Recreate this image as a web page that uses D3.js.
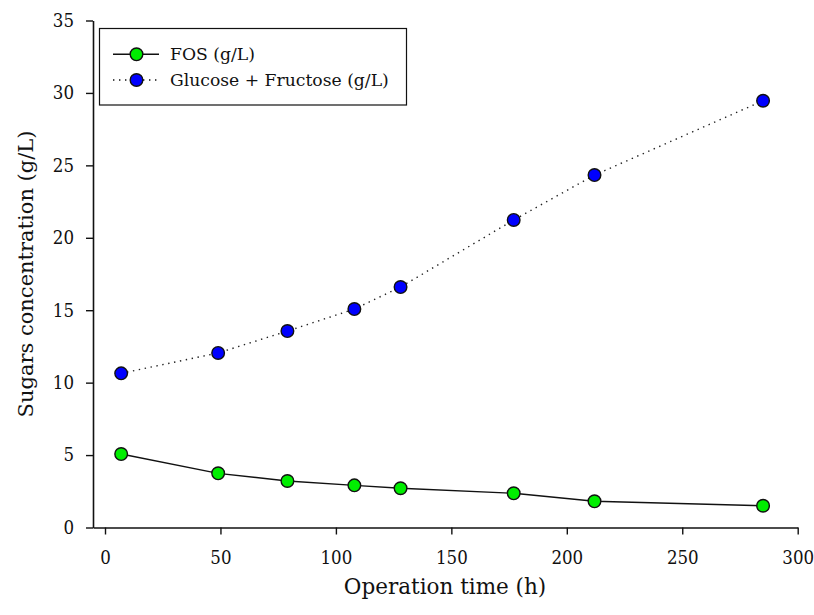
<!DOCTYPE html>
<html>
<head>
<meta charset="utf-8">
<script src="https://cdn.jsdelivr.net/npm/d3@7"></script>
<style>
  body { margin: 0; background: #fff; }
  text { font-family: "DejaVu Serif", serif; fill: #111; }
</style>
</head>
<body>
<div id="chart"></div>
<script>
// sampling times (h)
const times = [7, 49, 79, 108, 128, 177, 212, 285];
// FOS (g/L)
const fos = [5.07, 3.74, 3.21, 2.91, 2.71, 2.36, 1.81, 1.50];
// Glucose + Fructose (g/L)
const glcFru = [10.64, 12.05, 13.56, 15.08, 16.6, 21.23, 24.33, 29.46];

const xTicks = [0, 50, 100, 150, 200, 250, 300];
const yTicks = [0, 5, 10, 15, 20, 25, 30, 35];

const seriesNames = ["FOS (g/L)", "Glucose + Fructose (g/L)"];

const W = 814, H = 615;

var svg = d3.select('#chart')
  .append('svg')
  .attr('width', W)
  .attr('height', H);

// scales (x axis line starts a bit left of 0)
const x = d3.scaleLinear()
  .domain([-5.2, 300])
  .range([93, 797.7]);

const y = d3.scaleLinear()
  .domain([0, 35])
  .range([527.5, 20.5]);

// axes
var xAxis = svg.append('g')
  .attr('transform', `translate(0, ${y(0)})`)
  .call(d3.axisBottom(x).tickValues(xTicks).tickSize(7).tickSizeOuter(0).tickPadding(16));

var yAxis = svg.append('g')
  .attr('transform', `translate(${x(-5.2)}, 0)`)
  .call(d3.axisLeft(y).tickValues(yTicks).tickSize(7).tickSizeOuter(0).tickPadding(12));

[xAxis, yAxis].forEach(a => {
  a.select('.domain').attr('stroke', '#111').attr('stroke-width', 1.6);
  a.selectAll('.tick line').attr('stroke', '#111').attr('stroke-width', 1.4);
  a.selectAll('.tick text')
    .style('font-family', '"DejaVu Serif Condensed", "DejaVu Serif", serif')
    .style('font-size', '18.5px')
    .attr('fill', '#111');
});

// axis titles
svg.append('text')
  .attr('x', 445)
  .attr('y', 594)
  .attr('text-anchor', 'middle')
  .style('font-size', '21.5px')
  .text('Operation time (h)');

svg.append('text')
  .attr('transform', 'translate(33, 274) rotate(-90)')
  .attr('text-anchor', 'middle')
  .style('font-size', '21px')
  .text('Sugars concentration (g/L)');

// lines
const line = d3.line()
  .x((d, i) => x(times[i]))
  .y(d => y(d));

svg.append('path')
  .datum(glcFru)
  .attr('d', line)
  .attr('fill', 'none')
  .attr('stroke', '#222')
  .attr('stroke-width', 1.4)
  .attr('stroke-dasharray', '1.4,4.6');

svg.append('path')
  .datum(fos)
  .attr('d', line)
  .attr('fill', 'none')
  .attr('stroke', '#111')
  .attr('stroke-width', 1.4);

// markers
function dots(data, fill) {
  svg.append('g')
    .selectAll('circle')
    .data(data)
    .enter()
    .append('circle')
    .attr('cx', (d, i) => x(times[i]))
    .attr('cy', d => y(d))
    .attr('r', 6.3)
    .attr('fill', fill)
    .attr('stroke', '#111')
    .attr('stroke-width', 1.4);
}
dots(glcFru, '#0000ff');
dots(fos, '#00ee00');

// legend
var legend = svg.append('g');
legend.append('rect')
  .attr('x', 99.5)
  .attr('y', 28.5)
  .attr('width', 307)
  .attr('height', 76.5)
  .attr('fill', '#fff')
  .attr('stroke', '#111')
  .attr('stroke-width', 1.2);

const legRows = [
  { name: seriesNames[0], fill: '#00ee00', dash: null, y: 54.3 },
  { name: seriesNames[1], fill: '#0000ff', dash: '1.4,4.6', y: 80 }
];

legRows.forEach(r => {
  legend.append('line')
    .attr('x1', 113).attr('x2', 159)
    .attr('y1', r.y).attr('y2', r.y)
    .attr('stroke', '#111')
    .attr('stroke-width', 1.4)
    .attr('stroke-dasharray', r.dash);
  legend.append('circle')
    .attr('cx', 136.5).attr('cy', r.y)
    .attr('r', 6.3)
    .attr('fill', r.fill)
    .attr('stroke', '#111')
    .attr('stroke-width', 1.4);
  legend.append('text')
    .attr('x', 170)
    .attr('y', r.y + 6)
    .style('font-size', '17.2px')
    .text(r.name);
});
</script>
</body>
</html>
